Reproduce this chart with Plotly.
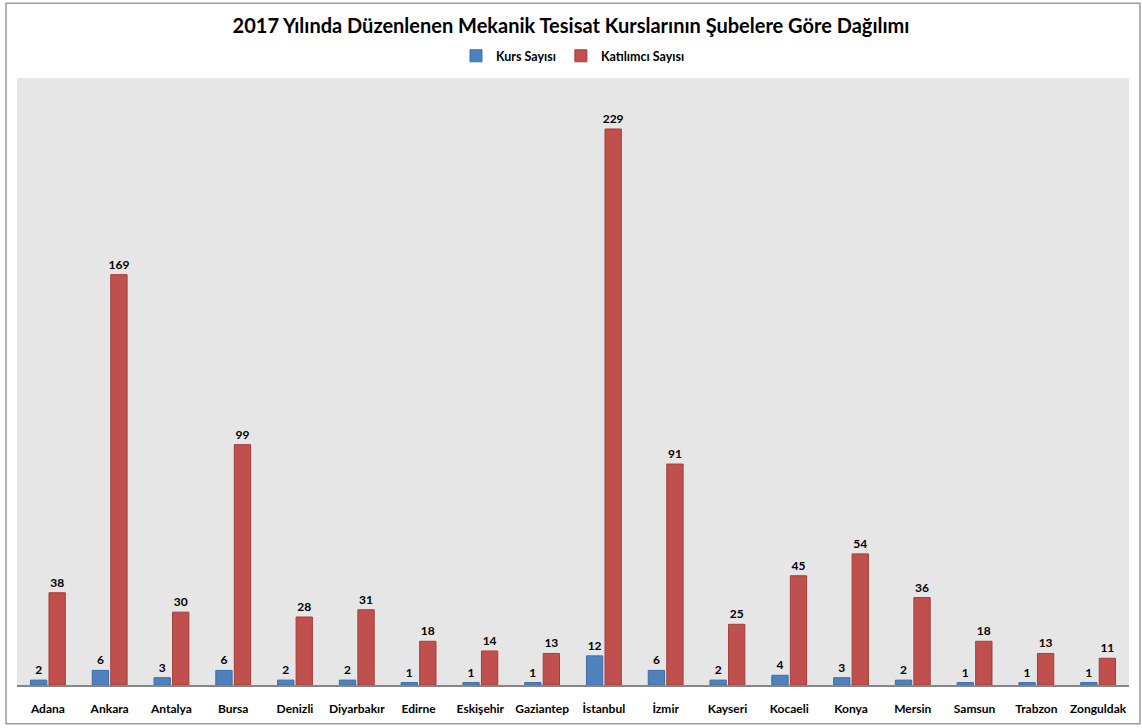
import plotly.graph_objects as go

categories = ["Adana", "Ankara", "Antalya", "Bursa", "Denizli", "Diyarbakır", "Edirne",
              "Eskişehir", "Gaziantep", "İstanbul", "İzmir", "Kayseri", "Kocaeli", "Konya",
              "Mersin", "Samsun", "Trabzon", "Zonguldak"]
kurs_sayisi = [2, 6, 3, 6, 2, 2, 1, 1, 1, 12, 6, 2, 4, 3, 2, 1, 1, 1]
katilimci_sayisi = [38, 169, 30, 99, 28, 31, 18, 14, 13, 229, 91, 25, 45, 54, 36, 18, 13, 11]

FONT = "Lato"

fig = go.Figure()
fig.add_trace(go.Bar(
    x=categories, y=kurs_sayisi, name="<b>Kurs Sayısı</b>",
    marker=dict(color="#4f81bd", line=dict(color="#3a6ea5", width=1)),
    text=kurs_sayisi, textposition="outside", texttemplate="<b>%{text}</b>",
    textfont=dict(family=FONT, size=12, color="black"), cliponaxis=False,
    constraintext="none",
))
fig.add_trace(go.Bar(
    x=categories, y=katilimci_sayisi, name="<b>Katılımcı Sayısı</b>",
    marker=dict(color="#c0504d", line=dict(color="#a33d3a", width=1)),
    text=katilimci_sayisi, textposition="outside", texttemplate="<b>%{text}</b>",
    textfont=dict(family=FONT, size=12, color="black"), cliponaxis=False,
    constraintext="none",
))

fig.update_layout(
    width=1142, height=728,
    margin=dict(l=17, r=13, t=78, b=41),
    paper_bgcolor="white", plot_bgcolor="#e6e6e6",
    barmode="group", bargap=0.4, bargroupgap=0.12,
    title=dict(text="<b>2017 Yılında Düzenlenen Mekanik Tesisat Kurslarının Şubelere Göre Dağılımı</b>",
               x=0.5, xanchor="center", y=0.964, yanchor="middle",
               font=dict(family=FONT, size=20, color="black")),
    legend=dict(orientation="h", x=0.5, xanchor="center", y=1.036, yanchor="middle",
                font=dict(family=FONT, size=12.5, color="black"),
                itemwidth=30, traceorder="normal", bgcolor="rgba(0,0,0,0)"),
    font=dict(family=FONT, color="black"),
    showlegend=True,
)
fig.update_xaxes(showline=True, linecolor="#868686", linewidth=1.5, showgrid=False,
                 ticks="", ticklabelstandoff=12,
                 tickfont=dict(family=FONT, size=12, color="black"),
                 tickprefix="<b>", ticksuffix="</b>")
fig.update_yaxes(range=[0, 250], showgrid=False, showticklabels=False, zeroline=False,
                 showline=False)

fig.add_shape(type="rect", xref="paper", yref="paper",
              x0=-0.0099, x1=1.0099, y0=-0.064, y1=1.123,
              line=dict(color="#9a9a9a", width=1.5), fillcolor="rgba(0,0,0,0)", layer="below")

fig.write_html("out.html", config={"displayModeBar": False},
               post_script="document.body.style.margin='0px';document.body.style.overflow='hidden';")
